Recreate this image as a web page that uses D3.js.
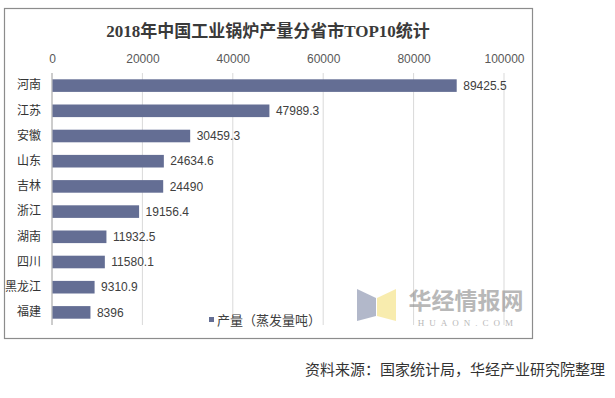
<!DOCTYPE html>
<html>
<head>
<meta charset="utf-8">
<script src="https://cdn.jsdelivr.net/npm/d3@7"></script>
<style>
  body { margin: 0; background: #fff; }
  text { font-family: "Liberation Sans", Arial, "Noto Sans CJK SC", sans-serif; }
</style>
</head>
<body>
<div id="chart"></div>
<script>
var provinces = ["河南", "江苏", "安徽", "山东", "吉林", "浙江", "湖南", "四川", "黑龙江", "福建"]
var output = [89425.5, 47989.3, 30459.3, 24634.6, 24490, 19156.4, 11932.5, 11580.1, 9310.9, 8396]
var ticks = [0, 20000, 40000, 60000, 80000, 100000]
var title = "2018年中国工业锅炉产量分省市TOP10统计"
var legendLabel = "产量（蒸发量吨）"
var source = "资料来源：国家统计局，华经产业研究院整理"

const width = 615, height = 398
const svg = d3.select("#chart").append("svg")
    .attr("width", width)
    .attr("height", height)

// frame round the chart
svg.append("rect")
    .attr("x", 4.5).attr("y", 8.5)
    .attr("width", 528).attr("height", 330)
    .attr("fill", "#fff")
    .attr("stroke", "#8c8c8c")
    .attr("stroke-width", 1.2)

svg.append("text")
    .attr("x", 268).attr("y", 37)
    .attr("text-anchor", "middle")
    .style("font-family", '"Liberation Serif", "Noto Sans CJK SC", serif')
    .style("font-weight", "bold")
    .style("font-size", "17px")
    .attr("fill", "#3a3a3a")
    .text(title)

const x = d3.scaleLinear().domain([0, 100000]).range([52, 504])
const y = d3.scaleBand().domain(provinces).range([73, 325]).paddingInner(0.5).paddingOuter(0.25)

// grid
svg.append("g")
    .selectAll("line")
    .data(ticks.slice(1))
    .enter().append("line")
        .attr("x1", d => x(d)).attr("x2", d => x(d))
        .attr("y1", 73).attr("y2", 325)
        .attr("stroke", "#d9d9d9")

const xAxis = svg.append("g")
    .attr("transform", "translate(0, 73)")
    .call(d3.axisTop(x).tickValues(ticks).tickFormat(d => d).tickSize(0).tickPadding(10))
xAxis.select(".domain").remove()
xAxis.selectAll("text")
    .style("font-size", "12px")
    .attr("fill", "#595959")

// category axis line
svg.append("line")
    .attr("x1", x(0)).attr("x2", x(0))
    .attr("y1", 73).attr("y2", 325)
    .attr("stroke", "#9a9a9a")

const yAxis = svg.append("g")
    .attr("transform", `translate(${x(0)}, 0)`)
    .call(d3.axisLeft(y).tickSize(0).tickPadding(11))
yAxis.select(".domain").remove()
yAxis.selectAll("text")
    .style("font-family", '"Noto Sans CJK SC", sans-serif')
    .style("font-size", "12px")
    .attr("fill", "#333")

const rows = provinces.map((p, i) => ({ name: p, val: output[i] }))

svg.append("g")
    .selectAll("rect")
    .data(rows)
    .enter().append("rect")
        .attr("x", x(0) + 0.5)
        .attr("y", d => y(d.name))
        .attr("width", d => x(d.val) - x(0))
        .attr("height", y.bandwidth())
        .attr("fill", "#646e94")

svg.append("g")
    .selectAll("text")
    .data(rows)
    .enter().append("text")
        .attr("x", d => x(d.val) + 7)
        .attr("y", d => y(d.name) + y.bandwidth() / 2)
        .attr("dy", "0.35em")
        .style("font-size", "12px")
        .attr("fill", "#404040")
        .text(d => d.val)

// legend
svg.append("rect")
    .attr("x", 209).attr("y", 317)
    .attr("width", 5).attr("height", 5)
    .attr("fill", "#646e94")
svg.append("text")
    .attr("x", 217).attr("y", 320)
    .attr("dy", "0.35em")
    .style("font-family", '"Noto Sans CJK SC", sans-serif')
    .style("font-size", "13px")
    .attr("fill", "#404040")
    .text(legendLabel)

// watermark
const wm = svg.append("g").attr("opacity", 0.6)
wm.append("path")
    .attr("d", "M357,289 L376,298 L376,316 L357,321 Z")
    .attr("fill", "#7f8aa8")
wm.append("path")
    .attr("d", "M377,298 L396,289 L396,321 L377,316 Z")
    .attr("fill", "#f5e07a")
wm.append("text")
    .attr("x", 466).attr("y", 309)
    .attr("text-anchor", "middle")
    .style("font-family", '"Noto Sans CJK SC", sans-serif')
    .style("font-weight", "bold")
    .style("font-size", "23px")
    .attr("fill", "#8a8a8a")
    .text("华经情报网")
wm.append("text")
    .attr("x", 468).attr("y", 326)
    .attr("text-anchor", "middle")
    .style("font-family", '"Liberation Serif", serif')
    .style("font-size", "9px")
    .style("letter-spacing", "5px")
    .attr("fill", "#8a8a8a")
    .text("HUAON.COM")

svg.append("text")
    .attr("x", 605).attr("y", 375)
    .attr("text-anchor", "end")
    .style("font-family", '"Noto Sans CJK SC", sans-serif')
    .style("font-size", "15px")
    .attr("fill", "#333")
    .text(source)
</script>
</body>
</html>
